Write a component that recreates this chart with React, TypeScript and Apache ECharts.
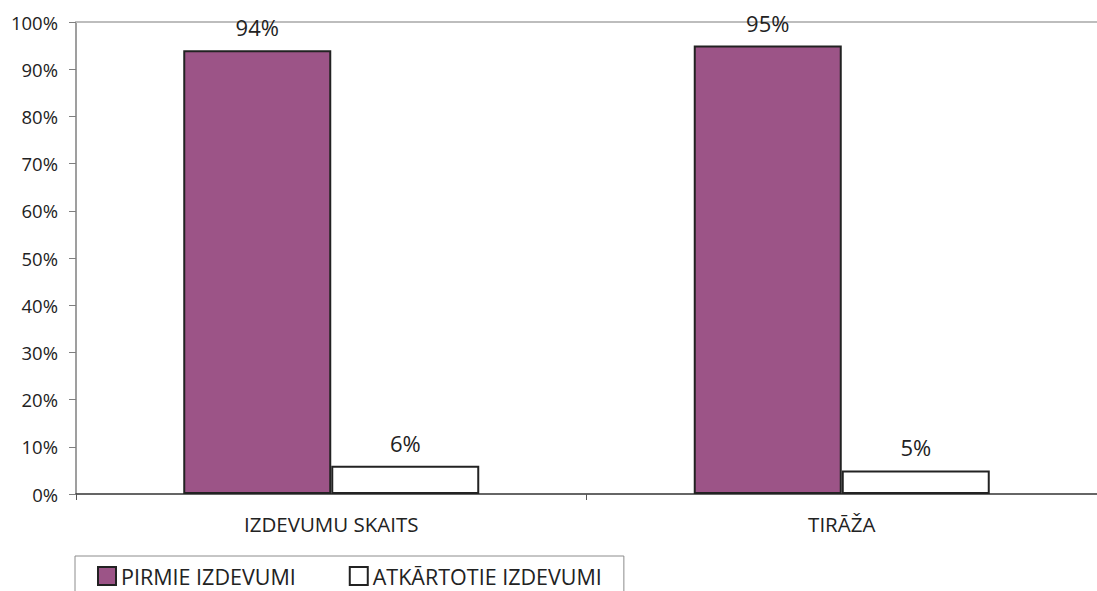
import React, { useEffect, useRef } from "react";
import * as echarts from "echarts";

const categories = ["IZDEVUMU SKAITS", "TIRĀŽA"];
const seriesNames = ["PIRMIE IZDEVUMI", "ATKĀRTOTIE IZDEVUMI"];
const firstValues = [94, 95];
const repeatValues = [6, 5];
const yTicks = { min: 0, max: 100, interval: 10 };

const FONT = "'Open Sans', 'Noto Sans', sans-serif";
const TEXT = "#222222";
const PURPLE = "#9c5487";

export default function App() {
  const ref = useRef<HTMLDivElement>(null);
  useEffect(() => {
    if (!ref.current) return;
    const chart = echarts.init(ref.current, undefined, { renderer: "svg" });
    chart.setOption({
      animation: false,
      backgroundColor: "#ffffff",
      textStyle: { fontFamily: FONT, color: TEXT },
      grid: { left: 76, top: 22, width: 1030, height: 472, containLabel: false },
      legend: {
        left: 75,
        top: 556,
        orient: "horizontal",
        padding: [9, 22, 20, 22],
        borderColor: "#8c8c8c",
        borderWidth: 1,
        itemWidth: 18,
        itemHeight: 18,
        itemGap: 53,
        textStyle: { fontFamily: FONT, fontSize: 21.5, color: TEXT },
        data: [
          { name: seriesNames[0], icon: "rect", itemStyle: { color: PURPLE, borderColor: "#222", borderWidth: 2 } },
          { name: seriesNames[1], icon: "rect", itemStyle: { color: "#ffffff", borderColor: "#222", borderWidth: 2 } },
        ],
      },
      xAxis: [
        {
          type: "category",
          data: categories,
          position: "bottom",
          axisLine: { lineStyle: { color: "#333", width: 1.5 } },
          axisTick: { show: true, alignWithLabel: false, length: 6, lineStyle: { color: "#555" } },
          axisLabel: { fontFamily: FONT, fontSize: 20.5, color: TEXT, margin: 19 },
        },
        {
          type: "category",
          data: categories,
          position: "top",
          axisLine: { show: true, lineStyle: { color: "#bdbdbd", width: 2 } },
          axisTick: { show: false },
          axisLabel: { show: false },
        },
      ],
      yAxis: {
        type: "value",
        min: yTicks.min,
        max: yTicks.max,
        interval: yTicks.interval,
        axisLine: { show: true, lineStyle: { color: "#7f7f7f", width: 1.5 } },
        axisTick: { show: true, length: 7, lineStyle: { color: "#7f7f7f" } },
        splitLine: { show: false },
        axisLabel: { fontFamily: FONT, fontSize: 18.5, color: TEXT, margin: 18, formatter: "{value}%" },
      },
      series: [
        {
          name: seriesNames[0],
          type: "bar",
          data: firstValues,
          barWidth: 148,
          barGap: "0%",
          itemStyle: { color: PURPLE, borderColor: "#222", borderWidth: 2 },
          label: { show: true, position: "top", distance: 12, formatter: "{c}%", fontFamily: FONT, fontSize: 22, color: TEXT },
        },
        {
          name: seriesNames[1],
          type: "bar",
          data: repeatValues,
          barWidth: 148,
          barGap: "0%",
          itemStyle: { color: "#ffffff", borderColor: "#222", borderWidth: 2 },
          label: { show: true, position: "top", distance: 12, formatter: "{c}%", fontFamily: FONT, fontSize: 22, color: TEXT },
        },
      ],
    });
    return () => chart.dispose();
  }, []);
  return (
    <div
      ref={ref}
      style={{ position: "fixed", left: 0, top: 0, width: 1097, height: 591, background: "#fff" }}
    />
  );
}
